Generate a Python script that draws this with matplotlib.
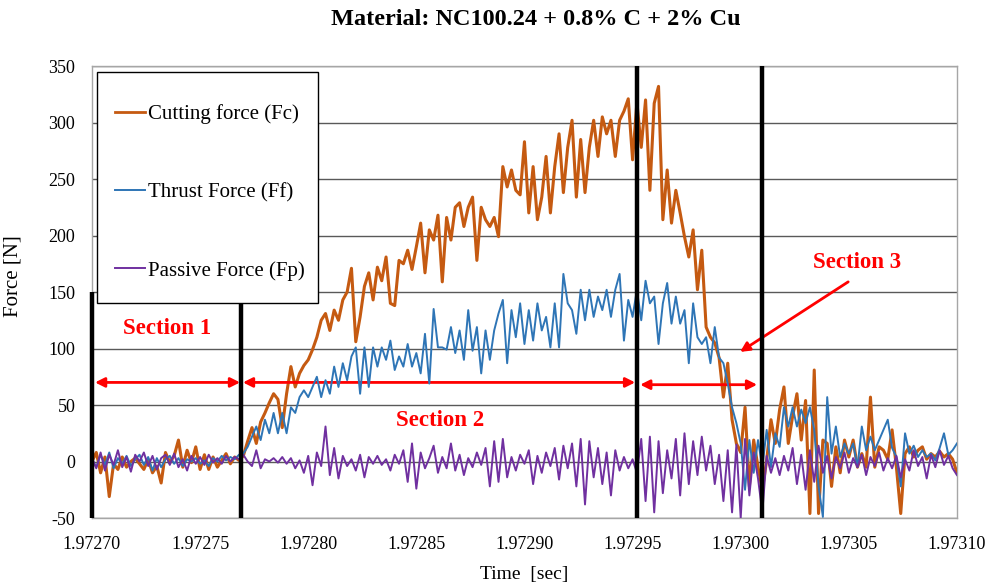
import numpy as np
import matplotlib
matplotlib.use("Agg")
import matplotlib.pyplot as plt
from matplotlib.ticker import FormatStrFormatter
from matplotlib.patches import Rectangle

# time axis: 201 samples from 1.97270 s to 1.97310 s
t_start, t_step, n = 1.97270, 0.000002, 201
time = t_start + t_step * np.arange(n)

fc = [0, 8, -10, 4, -31, -2, -7, 4, -5, 0,
      3, -2, -7, 2, -10, -4, -19, 8, -1, 5,
      19, -5, 10, -1, 13, -7, 6, -7, 4, -5,
      1, 7, -2, 4, 1, 5, 18, 30, 16, 35,
      43, 52, 60, 55, 30, 60, 84, 66, 78, 85,
      90, 99, 110, 125, 131, 116, 134, 125, 143, 150,
      171, 106, 128, 155, 167, 143, 172, 160, 181, 140,
      138, 178, 175, 187, 170, 190, 211, 167, 205, 196,
      218, 159, 216, 196, 225, 229, 208, 225, 234, 178,
      225, 214, 208, 216, 199, 261, 243, 258, 240, 236,
      283, 220, 261, 214, 234, 270, 220, 261, 290, 238,
      278, 302, 234, 285, 238, 278, 302, 270, 305, 290,
      302, 270, 302, 310, 321, 267, 318, 278, 320, 240,
      317, 332, 214, 258, 211, 240, 220, 199, 181, 205,
      152, 187, 119, 110, 105, 92, 57, 87, 37, 16,
      8, 48, -22, 19, -5, -25, 1, 37, 16, 46,
      66, 16, 40, 60, 19, 54, -46, 81, -46, 19,
      16, -22, 13, -10, 19, 4, 19, -5, 7, -5,
      57, -5, 13, 10, 2, 28, -5, -46, 7, 13,
      4, 10, 13, 2, 7, 4, 9, 4, 7, 2,
      -10]

ff = [2, -5, 6, -3, 8, -6, 3, -2, 5, -4,
      2, 6, -3, 4, -8, 3, -5, 2, 5, -2,
      3, -4, 2, 0, 3, -2, 1, -4, 3, 0,
      5, 1, 4, 2, 6, 7, 13, 22, 31, 19,
      37, 25, 43, 25, 43, 25, 48, 43, 57, 63,
      57, 66, 75, 57, 72, 60, 84, 66, 87, 72,
      93, 101, 60, 101, 66, 101, 84, 101, 90, 107,
      81, 93, 84, 104, 84, 96, 78, 113, 69, 135,
      101, 101, 99, 119, 96, 116, 90, 134, 98, 119,
      78, 116, 90, 116, 131, 143, 87, 134, 110, 140,
      104, 134, 107, 140, 116, 128, 101, 140, 101, 166,
      140, 134, 113, 152, 125, 152, 128, 146, 134, 152,
      128, 152, 166, 107, 143, 128, 152, 125, 160, 140,
      146, 104, 140, 158, 122, 146, 122, 134, 87, 140,
      110, 104, 110, 87, 119, 92, 87, 69, 48, 34,
      16, -25, 19, -10, 19, -5, 28, -5, 25, 13,
      48, 31, 48, 31, 46, 34, 48, 28, -22, -49,
      57, 7, 31, 4, 16, 7, 16, -5, 31, 10,
      22, 10, 19, 28, 37, 12, 4, -22, 25, 7,
      14, 4, 10, 4, 7, 1, 12, 25, 6, 10,
      16]

fp = [3, -6, 8, -8, 6, -3, 10, -5, 4, -9,
      6, 0, 8, -4, 5, -7, 3, 6, -3, 7,
      -5, 2, -8, 5, -2, 4, -3, 6, -1, 3,
      -2, 5, 0, 4, 2, 6, 0, -4, 10, -6,
      2, 0, 3, -1, 4, -2, 3, -6, 1, -10,
      5, -21, 8, -4, 31, -12, 12, -15, 5, -4,
      2, -8, 6, -14, 4, -2, 5, -3, 2, -8,
      6, -2, 10, -18, 16, -24, 8, -6, 3, 14,
      -10, 4, -6, 16, -8, 6, -12, 3, -5, 8,
      -3, 12, -22, 18, -18, 20, -14, 4, -8, 6,
      -2, 10, -20, 5, -10, 8, -4, 12, -16, 14,
      -6, 16, -22, 20, -38, 18, -14, 12, -20, 8,
      -30, 10, -8, 4, -6, 2, -10, 20, -35, 22,
      -45, 18, -28, 10, -15, 20, -30, 25, -20, 18,
      -12, 22, -8, 14, -20, 6, -35, 10, -45, 15,
      -50, 20, -30, 8, -15, -45, 5, -10, 3, -12,
      5, -8, 12, -20, 6, -25, 10, -18, 14, -10,
      5, -15, 4, -6, 8, -10, 3, -5, 6, -12,
      4, -4, 8, -8, 3, -6, 5, -14, 2, -8,
      10, -4, 4, -15, 6, -5, 10, -3, 5, -6,
      -12]

yticks = [-50, 0, 50, 100, 150, 200, 250, 300, 350]
xticks = [1.97270, 1.97275, 1.97280, 1.97285, 1.97290, 1.97295, 1.97300, 1.97305, 1.97310]
section_lines = [1.9727, 1.972769, 1.972952, 1.97301]

plt.rcParams['font.family'] = ['Liberation Serif', 'DejaVu Serif']
plt.rcParams['axes.unicode_minus'] = False

fig = plt.figure(figsize=(10.05, 5.88), dpi=100)
ax = fig.add_axes([0.0915, 0.119, 0.8607, 0.7687])

ax.plot(time, fc, color='#C55A11', lw=2.2, label='Cutting force (Fc)', zorder=3)
ax.plot(time, ff, color='#2E75B6', lw=1.4, label='Thrust Force (Ff)', zorder=4)
ax.plot(time, fp, color='#7030A0', lw=1.4, label='Passive Force (Fp)', zorder=5)

# section boundaries
ax.vlines(section_lines[:2], -50, 150, color='black', lw=3.2, zorder=6, clip_on=False)
ax.vlines(section_lines[2:], -50, 350, color='black', lw=3.2, zorder=6)

ax.set_xlim(1.97270, 1.97310)
ax.set_ylim(-50, 350)
ax.set_xticks(xticks)
ax.set_yticks(yticks)
ax.xaxis.set_major_formatter(FormatStrFormatter('%.5f'))
ax.tick_params(length=0, labelsize=13)
ax.tick_params(axis='x', pad=13)
ax.tick_params(axis='y', pad=12)
ax.grid(axis='y', color='#595959', lw=1.0)
ax.set_axisbelow(True)
for s in ax.spines.values():
    s.set_color('#A6A6A6')
    s.set_linewidth(1.0)

ax.set_ylabel('Force [N]', fontsize=15)
ax.yaxis.set_label_coords(-0.08, 0.535)
ax.set_xlabel('Time  [sec]', fontsize=14, labelpad=9)
fig.text(0.533, 0.966, 'Material: NC100.24 + 0.8% C + 2% Cu', ha='center', va='center',
         fontsize=17.5, fontweight='bold')

# section arrows and labels
red = '#FF0000'
arrow = dict(arrowstyle='<|-|>', color=red, lw=2, mutation_scale=14, shrinkA=0, shrinkB=0)
ax.annotate('', xy=(1.9727014, 70), xytext=(1.9727685, 70), arrowprops=arrow)
ax.annotate('', xy=(1.9727698, 70), xytext=(1.9729512, 70), arrowprops=arrow)
ax.annotate('', xy=(1.9729535, 68), xytext=(1.9730076, 68), arrowprops=arrow)
ax.annotate('', xy=(1.9729997, 97), xytext=(1.9730497, 159),
            arrowprops=dict(arrowstyle='-|>', color=red, lw=2, mutation_scale=14, shrinkA=0, shrinkB=0))
ax.text(1.9727347, 118, 'Section 1', color=red, fontsize=16.5, fontweight='bold', ha='center', va='center')
ax.text(1.972861, 36, 'Section 2', color=red, fontsize=16.5, fontweight='bold', ha='center', va='center')
ax.text(1.9730538, 176, 'Section 3', color=red, fontsize=16.5, fontweight='bold', ha='center', va='center')

# legend box drawn separately so its padding can match the original
box = Rectangle((0.0058, 0.476), 0.2555, 0.511, transform=ax.transAxes, facecolor='white',
                edgecolor='black', lw=1.0, zorder=9)
ax.add_patch(box)
leg = ax.legend(loc='upper left', bbox_to_anchor=(0.0266, 0.916), fontsize=15, labelspacing=2.82,
                handlelength=1.45, handletextpad=0.15, borderpad=0, borderaxespad=0, frameon=False)
leg.set_zorder(10)
for ln, w in zip(leg.get_lines(), [2.0, 1.4, 1.4]):
    ln.set_linewidth(w)

fig.savefig('out.png', dpi=100)
